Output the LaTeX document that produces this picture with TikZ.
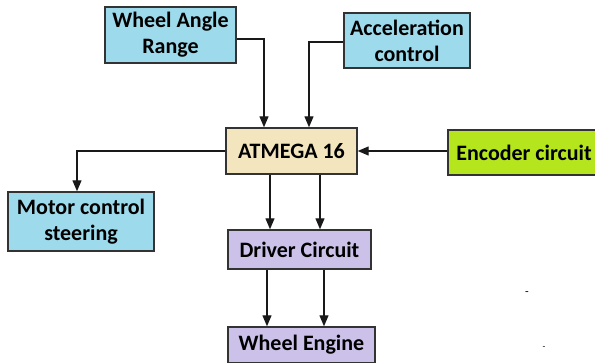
\documentclass[tikz,border=0pt]{standalone}
\usepackage{fontspec}
\setmainfont{Carlito}
\usetikzlibrary{arrows.meta}
\definecolor{boxblue}{HTML}{9DDAEB}
\definecolor{boxwheat}{HTML}{F3E6BE}
\definecolor{boxgreen}{HTML}{B5E61D}
\definecolor{boxlav}{HTML}{CCC1E8}
\definecolor{edge}{HTML}{333333}
\begin{document}
\begin{tikzpicture}[x=1pt,y=-1pt,
  blk/.style={draw=edge,line width=1.4pt,inner sep=0pt,align=center,
    font=\fontsize{22}{26}\selectfont\bfseries},
  arr/.style={draw=black!90,line width=1.2pt,-{Triangle[length=11pt,width=9pt]}},
  ln/.style={draw=black!85,line width=1.2pt}]
\useasboundingbox (0,0) rectangle (595,363);
\node[blk,fill=boxblue,minimum width=131pt,minimum height=56pt] (war) at (170.5,35) {Wheel Angle\\Range};
\node[blk,fill=boxblue,minimum width=126pt,minimum height=55pt] (acc) at (407,40.5) {Acceleration\\control};
\node[blk,fill=boxwheat,minimum width=131pt,minimum height=46pt] (atm) at (291.5,151) {ATMEGA 16};
\node[blk,fill=boxgreen,minimum width=152pt,minimum height=45pt] (enc) at (524,152.5) {Encoder circuit};
\node[blk,fill=boxblue,minimum width=146pt,minimum height=59pt] (mot) at (81,221.5) {Motor control\\steering};
\node[blk,fill=boxlav,minimum width=143pt,minimum height=39pt] (drv) at (299.5,249.5) {Driver Circuit};
\node[blk,fill=boxlav,minimum width=147pt,minimum height=36pt] (eng) at (301.5,345) {Wheel Engine};
\draw[arr] (war.east |- 0,39) -| ([xshift=-27.5pt]atm.north);
\draw[arr] (acc.west |- 0,42) -| ([xshift=17.5pt]atm.north);
\draw[arr] (atm.west) -| ([xshift=-4pt]mot.north);
\draw[arr] (enc.west |- atm.east) -- (atm.east);
\draw[arr] ([xshift=-21.5pt]atm.south) -- ([xshift=-21.5pt]atm.south |- drv.north);
\draw[arr] ([xshift=28.5pt]atm.south) -- ([xshift=28.5pt]atm.south |- drv.north);
\draw[arr] ([xshift=-32.5pt]drv.south) -- ([xshift=-32.5pt]drv.south |- eng.north);
\draw[arr] ([xshift=24.5pt]drv.south) -- ([xshift=24.5pt]drv.south |- eng.north);
\node[font=\fontsize{12}{14}\selectfont,inner sep=0pt] (m1) at (527,294) {-};
\node[font=\fontsize{9}{11}\selectfont,inner sep=0pt] (m2) at (544,348) {-};
\end{tikzpicture}
\end{document}
